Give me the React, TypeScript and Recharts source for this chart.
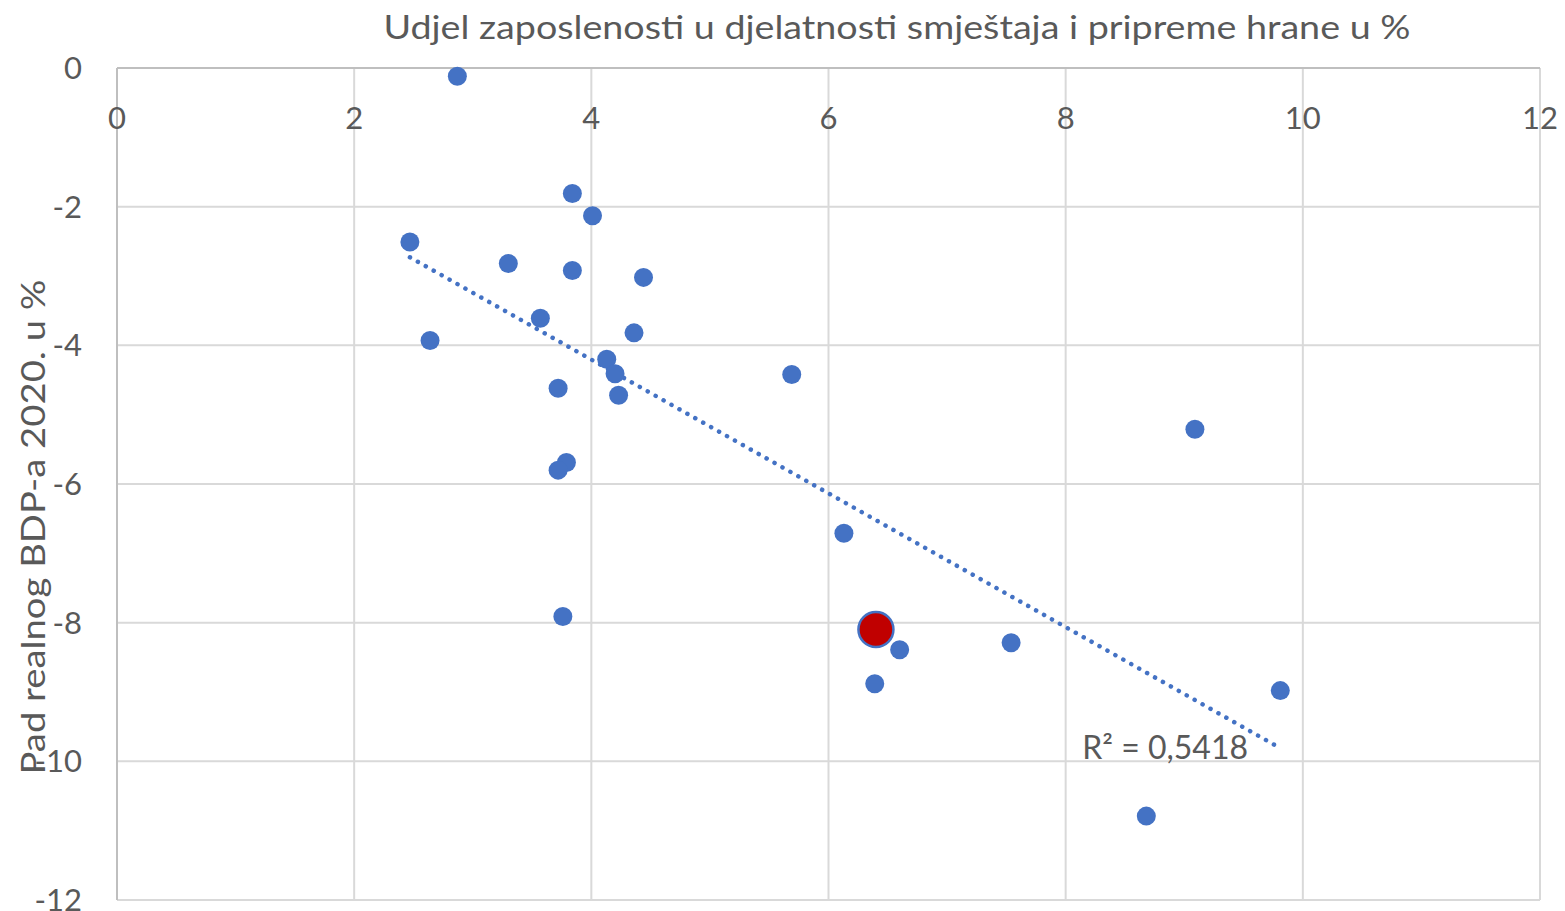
import React from 'react';
import {
  ScatterChart,
  Scatter,
  XAxis,
  YAxis,
  CartesianGrid,
  ReferenceLine,
  ReferenceDot,
} from 'recharts';

// Udjel zaposlenosti u djelatnosti smještaja i pripreme hrane (%)
const employmentShare = [
  2.87, 3.84, 4.01, 2.47, 3.3, 3.84, 4.44, 3.57, 2.64, 4.36, 4.13, 4.2, 5.69,
  3.72, 4.23, 9.09, 3.79, 3.72, 6.13, 3.76, 6.6, 7.54, 6.39, 9.81, 8.68,
];
// Pad realnog BDP-a 2020. (%)
const gdpChange = [
  -0.12, -1.81, -2.13, -2.51, -2.82, -2.92, -3.02, -3.61, -3.93, -3.82, -4.2,
  -4.41, -4.42, -4.62, -4.72, -5.21, -5.69, -5.8, -6.71, -7.91, -8.39, -8.29,
  -8.88, -8.98, -10.79,
];
// Hrvatska (highlighted)
const highlightShare = [6.4];
const highlightGdp = [-8.1];

const xTicks = [0, 2, 4, 6, 8, 10, 12];
const yTicks = [0, -2, -4, -6, -8, -10, -12];

const trendStart = { x: 2.47, y: -2.73 };
const trendEnd = { x: 9.81, y: -9.81 };
const r2Text = 'R² = 0,5418';
const r2Pos = { x: 8.14, y: -9.8 };

const titleText = 'Udjel zaposlenosti u djelatnosti smještaja i pripreme hrane u %';
const yTitleText = 'Pad realnog BDP-a 2020. u %';

const points = employmentShare.map((x, i) => ({ x, y: gdpChange[i] }));
const highlight = highlightShare.map((x, i) => ({ x, y: highlightGdp[i] }));

const FONT = "Lato, 'Open Sans', 'Liberation Sans', sans-serif";
const TEXT = '#595959';
const FS = 31;

const BlueDot = (p: any) => (
  <circle cx={p.cx} cy={p.cy} r={9.5} fill="#4472C4" />
);
const RedDot = (p: any) => (
  <circle cx={p.cx} cy={p.cy} r={17.5} fill="#C00000" stroke="#4472C4" strokeWidth={2.5} />
);

export default function App() {
  return (
    <div style={{ position: 'absolute', left: 0, top: 0, width: 1565, height: 911, background: '#fff' }}>
      <ScatterChart
        width={1565}
        height={911}
        margin={{ top: 68, right: 25, bottom: 11, left: 0 }}
        style={{ fontFamily: FONT }}
      >
        <CartesianGrid stroke="#D9D9D9" strokeWidth={2} />
        <XAxis
          type="number"
          dataKey="x"
          orientation="top"
          mirror
          domain={[0, 12]}
          ticks={xTicks}
          interval={0}
          tickSize={0}
          tickMargin={39}
          axisLine={{ stroke: '#BFBFBF', strokeWidth: 2 }}
          tick={{ fill: TEXT, fontSize: FS, fontFamily: FONT }}
        />
        <YAxis
          type="number"
          dataKey="y"
          width={117}
          domain={[-12, 0]}
          ticks={yTicks}
          interval={0}
          tickSize={0}
          tickMargin={35}
          axisLine={{ stroke: '#BFBFBF', strokeWidth: 2 }}
          tick={{ fill: TEXT, fontSize: FS, fontFamily: FONT }}
        />
        <Scatter data={points} shape={BlueDot} isAnimationActive={false} />
        <ReferenceLine
          segment={[trendStart, trendEnd]}
          stroke="#4472C4"
          strokeWidth={4.5}
          strokeDasharray="0.1 9"
          strokeLinecap="round"
          ifOverflow="visible"
        />
        <Scatter data={highlight} shape={RedDot} isAnimationActive={false} />
        <ReferenceDot
          x={r2Pos.x}
          y={r2Pos.y}
          r={0}
          fill="none"
          stroke="none"
          ifOverflow="visible"
          label={{ value: r2Text, position: 'right', offset: 0, fill: TEXT, fontSize: 32, fontFamily: FONT }}
        />
      </ScatterChart>
      <svg
        width={1565}
        height={911}
        style={{ position: 'absolute', left: 0, top: 0, pointerEvents: 'none' }}
      >
        <text
          x={897}
          y={39}
          textAnchor="middle"
          fill={TEXT}
          fontSize={32}
          fontFamily={FONT}
          textLength={1027}
          lengthAdjust="spacingAndGlyphs"
        >
          {titleText}
        </text>
        <text
          x={45}
          y={527}
          textAnchor="middle"
          fill={TEXT}
          fontSize={32}
          fontFamily={FONT}
          textLength={495}
          lengthAdjust="spacingAndGlyphs"
          transform="rotate(-90, 45, 527)"
        >
          {yTitleText}
        </text>
      </svg>
    </div>
  );
}
